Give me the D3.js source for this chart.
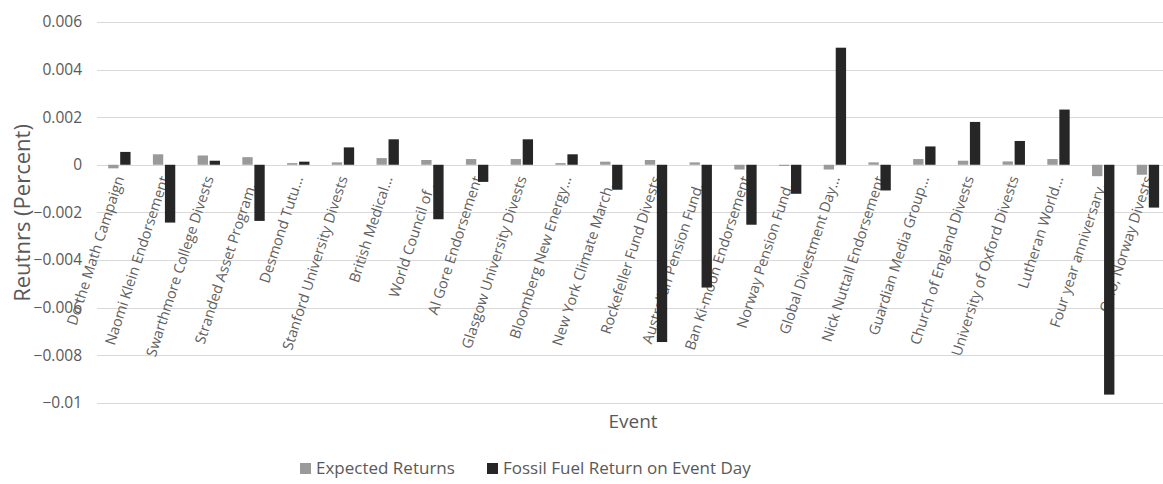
<!doctype html>
<html>
<head>
  <meta charset="utf-8">
  <style type="text/css">
    body { margin: 0; background: #fff; }
    svg { display: block; background: #fff; }
    text { font-family: "Open Sans", sans-serif; fill: #595959; }
    .grid line { stroke: #d9d9d9; stroke-width: 1; shape-rendering: crispEdges; }
    .grid path { display: none; }
    .y-axis path, .y-axis line { display: none; }
    .y-axis text { font-size: 15.5px; }
    .cat { font-size: 14.5px; fill: #606060; }
  </style>
  <title>Event returns</title>
</head>
<body>
<svg class="chart"></svg>

<script type="text/javascript" src="https://cdnjs.cloudflare.com/ajax/libs/d3/7.8.5/d3.min.js"></script>
<script type="text/javascript">

var outerWidth = 1163,
    outerHeight = 484,
    plot = { left: 97, right: 1170.3, top: 22, bottom: 402.7 };

// data
var events = [
  "Do the Math Campaign", "Naomi Klein Endorsement", "Swarthmore College Divests",
  "Stranded Asset Program\u2026", "Desmond Tutu\u2026", "Stanford University Divests",
  "British Medical\u2026", "World Council of \u2026", "Al Gore Endorsement",
  "Glasgow University Divests", "Bloomberg New Energy\u2026", "New York Climate March\u2026",
  "Rockefeller Fund Divests", "Australian Pension Fund\u2026", "Ban Ki-moon Endorsement",
  "Norway Pension Fund\u2026", "Global Divestment Day\u2026", "Nick Nuttall Endorsement",
  "Guardian Media Group\u2026", "Church of England Divests", "University of Oxford Divests",
  "Lutheran World\u2026", "Four year anniversary\u2026", "Oslo, Norway Divests"
];

var expectedReturns = [
  -0.00015, 0.00044, 0.00039, 0.00032, 0.00007, 0.0001,
  0.00028, 0.0002, 0.00024, 0.00024, 0.00007, 0.00013,
  0.0002, 0.0001, -0.0002, -0.00005, -0.0002, 0.0001,
  0.00024, 0.00017, 0.00014, 0.00024, -0.00048, -0.00042
];

var fossilReturns = [
  0.00054, -0.00243, 0.00017, -0.00236, 0.00013, 0.00073,
  0.00107, -0.00229, -0.00072, 0.00107, 0.00044, -0.00105,
  -0.00745, -0.00516, -0.00252, -0.00122, 0.00492, -0.00108,
  0.00077, 0.0018, 0.001, 0.00232, -0.00966, -0.0018
];

var seriesNames = ["Expected Returns", "Fossil Fuel Return on Event Day"];
var seriesColors = ["#9a9a9a", "#262626"];
var yTicks = [0.006, 0.004, 0.002, 0, -0.002, -0.004, -0.006, -0.008, -0.01];

var rows = events.map(function(e, i) {
  return { event: e, values: [expectedReturns[i], fossilReturns[i]] };
});

var svg = d3.select(".chart")
  .attr("width", outerWidth)
  .attr("height", outerHeight);

var x0 = d3.scaleBand()
  .domain(events)
  .range([plot.left, plot.right])
  .paddingInner(0.5)
  .paddingOuter(0.25);

var x1 = d3.scaleBand()
  .domain([0, 1])
  .range([0, x0.bandwidth()])
  .paddingInner(0.14);

var yScale = d3.scaleLinear()
  .domain([-0.01, 0.006])
  .range([plot.bottom, plot.top]);

// gridlines
svg.append("g")
  .attr("class", "grid")
  .attr("transform", "translate(" + plot.left + ",0)")
  .call(d3.axisRight(yScale).tickValues(yTicks).tickSize(outerWidth - plot.left).tickFormat(""));

// y axis labels
svg.append("g")
  .attr("class", "y-axis")
  .attr("transform", "translate(88,0)")
  .call(d3.axisLeft(yScale).tickValues(yTicks).tickSize(0).tickPadding(6)
    .tickFormat(function(d) { return d === 0 ? "0" : d3.format("")(+d.toFixed(3)); }));

// category labels (drawn under the bars)
svg.append("g")
  .selectAll("text")
  .data(events)
  .join("text")
    .attr("class", "cat")
    .attr("text-anchor", "end")
    .attr("transform", function(d) {
      var cx = x0(d) + x0.bandwidth() / 2;
      return "translate(" + (cx + 5) + ",178) rotate(-72)";
    })
    .text(function(d) { return d; });

// bars
var groups = svg.append("g")
  .attr("class", "bars")
  .selectAll("g")
  .data(rows)
  .join("g")
    .attr("transform", function(d) { return "translate(" + x0(d.event) + ",0)"; });

groups.selectAll("rect")
  .data(function(d) { return d.values.map(function(v, k) { return { k: k, v: v }; }); })
  .join("rect")
    .attr("x", function(d) { return x1(d.k); })
    .attr("width", x1.bandwidth())
    .attr("y", function(d) { return yScale(Math.max(0, d.v)); })
    .attr("height", function(d) { return Math.abs(yScale(d.v) - yScale(0)); })
    .attr("fill", function(d) { return seriesColors[d.k]; });

// axis titles
svg.append("text")
  .attr("transform", "translate(30,213) rotate(-90)")
  .attr("text-anchor", "middle")
  .style("font-size", "22px")
  .text("Reutnrs (Percent)");

svg.append("text")
  .attr("x", 633)
  .attr("y", 428)
  .attr("text-anchor", "middle")
  .style("font-size", "19px")
  .text("Event");

// legend
var legend = svg.append("g").attr("class", "legend");
var legendX = [300, 487];
seriesNames.forEach(function(name, i) {
  var g = legend.append("g").attr("transform", "translate(" + legendX[i] + ",463)");
  g.append("rect").attr("width", 11).attr("height", 11).attr("fill", seriesColors[i]);
  g.append("text").attr("x", 16).attr("y", 11).style("font-size", "17px").text(name);
});

</script>
</body>
</html>
